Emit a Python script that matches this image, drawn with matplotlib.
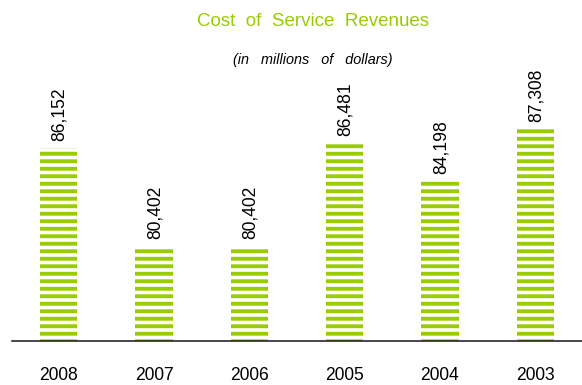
import matplotlib
matplotlib.use("Agg")
import matplotlib.pyplot as plt

years = ["2008", "2007", "2006", "2005", "2004", "2003"]
values = [86152, 80402, 80402, 86481, 84198, 87308]
value_labels = ["86,152", "80,402", "80,402", "86,481", "84,198", "87,308"]

DPI = 90
plt.rcParams['font.family'] = ['Liberation Sans', 'DejaVu Sans']
plt.rcParams['hatch.linewidth'] = 3.1

fig = plt.figure(figsize=(582 / DPI, 385 / DPI), dpi=DPI)
ax = fig.add_axes([12 / 582, (385 - 340.5) / 385, 570 / 582, 281 / 385])

green = '#99cc00'
x = list(range(len(years)))
ax.bar(x, values, width=0.39, bottom=0, color='white', edgecolor=green,
       linewidth=0, hatch='--')

ymin = 74800
ax.set_ylim(ymin, ymin + 281 * 59.0)
ax.set_xlim(-0.49, 5.49)

for xi, v, lab in zip(x, values, value_labels):
    ax.annotate(lab, (xi, v), xytext=(1, 7), textcoords='offset pixels',
                rotation=90, ha='center', va='bottom', fontsize=14, color='black')

ax.set_xticks(x)
ax.set_xticklabels(years, fontsize=14)
ax.tick_params(axis='x', length=0, pad=21)
ax.set_yticks([])
for s in ['left', 'right', 'top']:
    ax.spines[s].set_visible(False)
ax.spines['bottom'].set_linewidth(1.3)
ax.spines['bottom'].set_color('#222222')

fig.text(313 / 582, 1 - 21 / 385, "Cost  of  Service  Revenues", color=green,
         fontsize=15, ha='center', va='center')
fig.text(313 / 582, 1 - 60 / 385, "(in   millions   of   dollars)", color='black',
         fontsize=11.5, style='italic', ha='center', va='center')

fig.savefig("out.png", dpi=DPI)
